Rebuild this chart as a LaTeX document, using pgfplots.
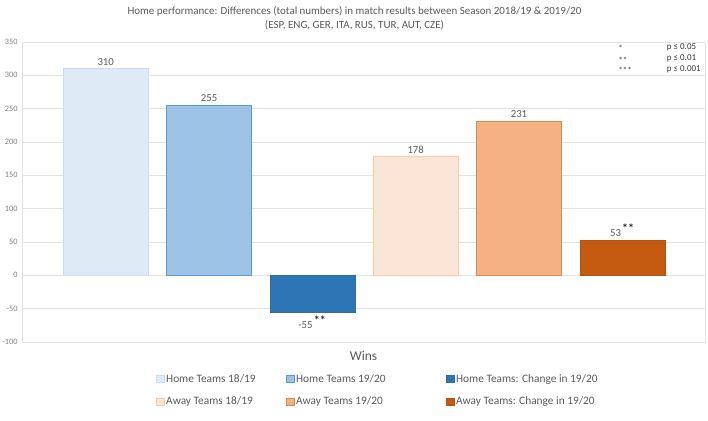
\documentclass[border=0pt]{standalone}
\usepackage{fontspec}
\setmainfont{Carlito}
\usepackage{pgfplots}
\pgfplotsset{compat=1.18}

\definecolor{txt}{HTML}{595959}
\definecolor{tick}{HTML}{7F7F7F}
\definecolor{gridc}{HTML}{E3E3E3}
\definecolor{hA}{HTML}{DEEBF7}
\definecolor{hAe}{HTML}{C9DCF0}
\definecolor{hB}{HTML}{9DC3E6}
\definecolor{hBe}{HTML}{5B9BD5}
\definecolor{hC}{HTML}{2E75B6}
\definecolor{hCe}{HTML}{2E6DA8}
\definecolor{aA}{HTML}{FBE5D6}
\definecolor{aAe}{HTML}{F8CBAD}
\definecolor{aB}{HTML}{F4B183}
\definecolor{aBe}{HTML}{D98A4E}
\definecolor{aC}{HTML}{C55A11}
\definecolor{aCe}{HTML}{B05210}

\newcommand{\sig}{\textsuperscript{\,\color{black!85}\fontsize{12}{12}\selectfont\textbf{**}}}

\begin{document}
\begin{tikzpicture}
\path[use as bounding box] (0,0) rectangle (708bp,421bp);
\begin{axis}[
    at={(22bp,79bp)}, anchor=south west,
    scale only axis,
    width=683bp, height=300bp,
    xmin=-0.81, xmax=5.80,
    ymin=-100, ymax=350,
    ytick={-100,-50,...,350},
    xtick=\empty,
    ymajorgrids=true,
    grid style={gridc, line width=0.6pt},
    axis line style={gridc, line width=0.6pt},
    major tick length=0pt,
    tick label style={font=\fontsize{8.3}{9}\selectfont, text=tick},
    /pgf/number format/assume math mode=true,
    yticklabel style={xshift=-1bp},
    xlabel={Wins},
    xlabel style={font=\fontsize{13.5}{15}\selectfont, text=txt, yshift=-6bp},
    title={Home performance: Differences (total numbers) in match results between Season 2018/19 \& 2019/20\\(ESP, ENG, GER, ITA, RUS, TUR, AUT, CZE)},
    title style={font=\fontsize{11}{15}\selectfont, text=txt, align=center, xshift=-9bp, yshift=2bp},
    bar width=0.82,
    nodes near coords,
    every node near coord/.append style={font=\fontsize{10.8}{12}\selectfont, text=txt},
    legend columns=3,
    legend cell align=left,
    legend style={draw=none, fill=none, at={(0,0)}, anchor=north west,
        xshift=131bp, yshift=-28bp,
        font=\fontsize{11.4}{12}\selectfont, text=txt,
        /tikz/every even column/.append style={column sep=0bp},
        row sep=9.5bp},
    legend image code/.code={\draw[#1] (0bp,-3.8bp) rectangle (7.6bp,3.8bp);},
]
\addplot[ybar, fill=hA, draw=hAe] coordinates {(0,310)};
\addlegendentry{\makebox[118bp][l]{Home Teams 18/19}}
\addplot[ybar, fill=hB, draw=hBe] coordinates {(1,255)};
\addlegendentry{\makebox[148bp][l]{Home Teams 19/20}}
\addplot[ybar, fill=hC, draw=hCe,
    nodes near coords={\pgfmathprintnumber{\pgfplotspointmeta}\sig}]
    coordinates {(2,-55)};
\addlegendentry{Home Teams: Change in 19/20}
\addplot[ybar, fill=aA, draw=aAe] coordinates {(3,178)};
\addlegendentry{\makebox[118bp][l]{Away Teams 18/19}}
\addplot[ybar, fill=aB, draw=aBe] coordinates {(4,231)};
\addlegendentry{\makebox[148bp][l]{Away Teams 19/20}}
\addplot[ybar, fill=aC, draw=aCe,
    nodes near coords={\pgfmathprintnumber{\pgfplotspointmeta}\sig}]
    coordinates {(5,53)};
\addlegendentry{Away Teams: Change in 19/20}

\begin{scope}[every node/.style={font=\fontsize{9}{10}\selectfont, text=black!80, anchor=west, inner sep=0pt}]
\node at (axis cs:4.96,341) {*};
\node at (axis cs:4.96,323) {**};
\node at (axis cs:4.96,307) {***};
\node at (axis cs:5.43,342) {p ≤ 0.05};
\node at (axis cs:5.43,325) {p ≤ 0.01};
\node at (axis cs:5.43,309) {p ≤ 0.001};
\end{scope}
\end{axis}
\end{tikzpicture}
\end{document}
